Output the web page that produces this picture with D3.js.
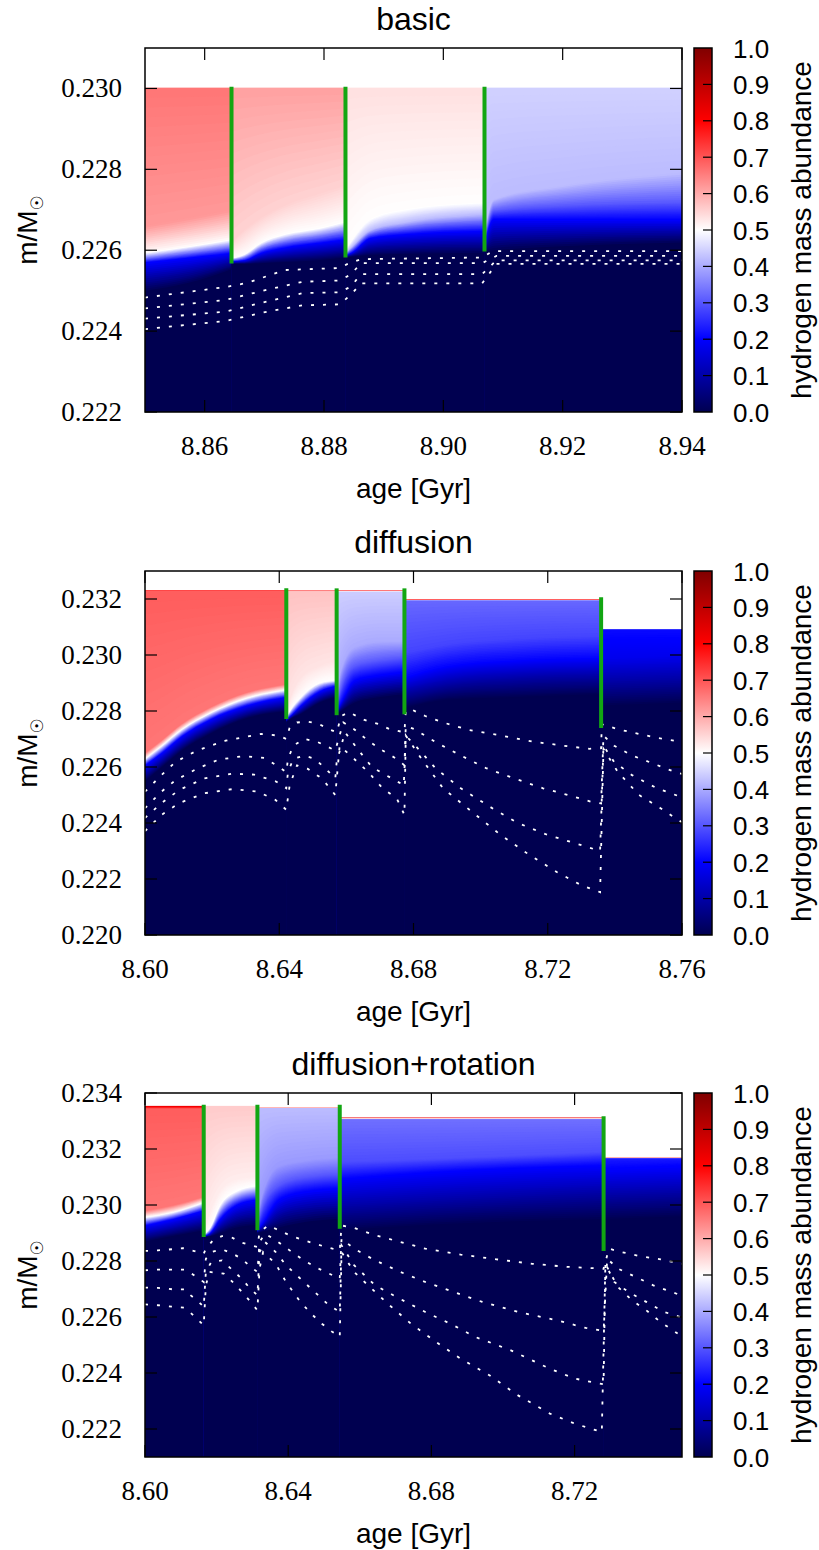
<!DOCTYPE html>
<html>
<head>
<meta charset="utf-8">
<script src="https://cdn.jsdelivr.net/npm/d3@7/dist/d3.min.js"></script>
<style>
  body { margin: 0; background: #fff; }
  svg { display: block; }
</style>
</head>
<body>
<svg id="chart" width="819" height="1550"></svg>
<script>
// colour palette of the hydrogen abundance
const paletteStops  = [0, 0.2, 0.5, 0.8, 1.0];
const paletteColors = ["#000050", "#0000ff", "#ffffff", "#ff0000", "#800000"];
const cbTicks = [0, 0.1, 0.2, 0.3, 0.4, 0.5, 0.6, 0.7, 0.8, 0.9, 1.0];

// ---------- basic ----------
const basicAgeTicks  = [8.86, 8.88, 8.90, 8.92, 8.94];
const basicMassTicks = [0.222, 0.224, 0.226, 0.228, 0.230];
const basicBreaks  = [8.85, 8.8645, 8.8836, 8.9069, 8.94];
const basicSurface = [0.23002, 0.23002, 0.23002, 0.23002];
const basicGreenTop    = [0.23004, 0.23004, 0.23004];
const basicGreenBottom = [0.22567, 0.22582, 0.22597];
// X levels per segment, top to bottom
const basicLevels = [
  [0.66, 0.62, 0.50, 0.20, 0.0],
  [0.61, 0.55, 0.50, 0.20, 0.0],
  [0.535, 0.50, 0.42, 0.20, 0.0],
  [0.445, 0.42, 0.30, 0.20, 0.0]
];
// [age, mass where X = level1, level2, ...]
const basicProfiles = [
  [[8.85, 0.2266, 0.22594, 0.2257, 0.2250],
   [8.8575, 0.2268, 0.2261, 0.22582, 0.2252],
   [8.8645, 0.2270, 0.22627, 0.22594, 0.22553]],
  [[8.8645, 0.2262, 0.22580, 0.22572, 0.22566],
   [8.8667, 0.2265, 0.2259, 0.22575, 0.22566],
   [8.8695, 0.2268, 0.22619, 0.22594, 0.22568],
   [8.8734, 0.2271, 0.2264, 0.22607, 0.22571],
   [8.8794, 0.2274, 0.22656, 0.22619, 0.22576],
   [8.8836, 0.2276, 0.22672, 0.22627, 0.22582]],
  [[8.8836, 0.2260, 0.22592, 0.22586, 0.22582],
   [8.8848, 0.22627, 0.2261, 0.22595, 0.22584],
   [8.8878, 0.22677, 0.2265, 0.2263, 0.22588],
   [8.8938, 0.22701, 0.2267, 0.2264, 0.22591],
   [8.9069, 0.22718, 0.2269, 0.22648, 0.22594]],
  [[8.9069, 0.2264, 0.2262, 0.2261, 0.22598],
   [8.9085, 0.22726, 0.22697, 0.22677, 0.2260],
   [8.920, 0.2276, 0.2271, 0.22677, 0.2261],
   [8.94, 0.22792, 0.22718, 0.22677, 0.22619]]
];
const basicDotted = [
  [[8.85,0.22483],[8.8635,0.22509],[8.8671,0.22519],[8.8734,0.22551],[8.8826,0.22556],[8.8838,0.22565],[8.8862,0.22578],[8.9065,0.22582],[8.9083,0.22598],[8.94,0.22598]],
  [[8.85,0.22456],[8.8635,0.22477],[8.8698,0.22500],[8.8764,0.22522],[8.8826,0.22525],[8.8845,0.2254],[8.8862,0.22568],[8.9065,0.22568],[8.9089,0.22586],[8.94,0.22586]],
  [[8.85,0.22431],[8.8635,0.22448],[8.8698,0.22471],[8.8764,0.22494],[8.8826,0.22496],[8.8845,0.2251],[8.8862,0.22541],[8.9065,0.22541],[8.9089,0.22575],[8.94,0.22575]],
  [[8.85,0.22405],[8.8635,0.22425],[8.8698,0.22446],[8.8764,0.22464],[8.8826,0.22466],[8.8845,0.2249],[8.8862,0.22518],[8.9065,0.22518],[8.9089,0.22566],[8.94,0.22566]]
];

// ---------- diffusion ----------
const diffAgeTicks  = [8.60, 8.64, 8.68, 8.72, 8.76];
const diffMassTicks = [0.220, 0.222, 0.224, 0.226, 0.228, 0.230, 0.232];
const diffBreaks  = [8.60, 8.6421, 8.6571, 8.6773, 8.7359, 8.76];
const diffSurface = [0.23232, 0.23232, 0.2323, 0.23198, 0.23092];
const diffGreenTop    = [0.23238, 0.23238, 0.23238, 0.23206];
const diffGreenBottom = [0.22771, 0.22785, 0.22788, 0.22739];
const diffLevels = [
  [0.80, 0.69, 0.66, 0.50, 0.20, 0.0],
  [0.75, 0.57, 0.53, 0.50, 0.20, 0.0],
  [0.75, 0.44, 0.40, 0.30, 0.20, 0.0],
  [0.80, 0.32, 0.28, 0.20, 0.10, 0.0],
  [0.50, 0.21, 0.18, 0.10, 0.0]
];
const diffProfiles = [
  [[8.600, 0.23229, 0.2265, 0.22629, 0.22606, 0.2255],
   [8.605, 0.23229, 0.22696, 0.22676, 0.2265, 0.2260],
   [8.611, 0.23229, 0.22755, 0.22735, 0.2271, 0.2266],
   [8.6195, 0.23229, 0.22814, 0.22794, 0.2277, 0.2272],
   [8.6304, 0.23229, 0.22867, 0.22847, 0.2282, 0.22775],
   [8.6421, 0.23229, 0.22896, 0.22876, 0.2285, 0.2280]],
  [[8.6421, 0.23228, 0.2279, 0.22775, 0.2277, 0.2276],
   [8.6432, 0.23228, 0.2284, 0.2280, 0.2278, 0.2277],
   [8.6465, 0.23228, 0.2292, 0.2285, 0.2282, 0.2279],
   [8.652, 0.23228, 0.2296, 0.2290, 0.2287, 0.2283],
   [8.6571, 0.23228, 0.2298, 0.2291, 0.2289, 0.2285]],
  [[8.6571, 0.23226, 0.2283, 0.2281, 0.22795, 0.22788],
   [8.6585, 0.23226, 0.2295, 0.2288, 0.2283, 0.2280],
   [8.6625, 0.23226, 0.2303, 0.2296, 0.2291, 0.2283],
   [8.670, 0.23226, 0.2305, 0.2298, 0.2293, 0.2285],
   [8.6773, 0.23226, 0.2305, 0.2299, 0.2294, 0.2286]],
  [[8.6773, 0.23194, 0.2301, 0.2292, 0.2287, 0.2281],
   [8.69, 0.23194, 0.2304, 0.2296, 0.2290, 0.2284],
   [8.71, 0.23194, 0.2306, 0.2298, 0.2292, 0.2285],
   [8.7359, 0.23194, 0.2307, 0.2299, 0.2293, 0.2286]],
  [[8.7359, 0.2309, 0.2299, 0.2291, 0.2282],
   [8.76, 0.2309, 0.2300, 0.2292, 0.2283]]
];
const diffDotted = [
  [[8.600,0.22512],[8.6049,0.22571],[8.6091,0.22618],[8.6155,0.22659],[8.6240,0.22694],[8.6346,0.22718],[8.6399,0.22712],[8.6421,0.22700],
   [8.6431,0.22741],[8.6453,0.22759],[8.6484,0.22762],[8.6516,0.22755],[8.6548,0.22735],[8.6571,0.22724],
   [8.6585,0.22782],[8.6607,0.22796],[8.6654,0.22768],[8.6697,0.22753],[8.6729,0.22735],[8.6773,0.22724],
   [8.6777,0.22800],[8.6793,0.22806],[8.6835,0.22782],[8.6888,0.22759],[8.6963,0.22733],[8.7048,0.22715],[8.7154,0.22691],[8.7260,0.22674],[8.7324,0.22665],[8.7359,0.22667],
   [8.7361,0.22753],[8.7409,0.22735],[8.7472,0.22718],[8.7536,0.22702],[8.76,0.2269]],
  [[8.600,0.22453],[8.6049,0.22512],[8.6091,0.22553],[8.6155,0.22594],[8.6219,0.22626],[8.6293,0.22639],[8.6357,0.22632],[8.6389,0.22608],[8.6421,0.22582],
   [8.6426,0.22629],[8.6442,0.22676],[8.6474,0.22700],[8.6511,0.22691],[8.6538,0.22676],[8.6567,0.22659],
   [8.6571,0.22676],[8.6591,0.22759],[8.6623,0.22735],[8.6665,0.22694],[8.6708,0.22659],[8.6750,0.22629],[8.6773,0.22606],
   [8.6777,0.22747],[8.6803,0.22735],[8.6867,0.22688],[8.6941,0.22641],[8.7016,0.22596],[8.7101,0.22559],[8.7186,0.22524],[8.7260,0.22500],[8.7329,0.22476],[8.7359,0.22470],
   [8.7366,0.22712],[8.7398,0.22676],[8.7451,0.22641],[8.7515,0.22612],[8.7579,0.22582],[8.76,0.22575]],
  [[8.600,0.22418],[8.6049,0.22471],[8.6102,0.22518],[8.6176,0.22559],[8.6261,0.22576],[8.6325,0.22573],[8.6389,0.22549],[8.6421,0.22524],
   [8.6426,0.22582],[8.6442,0.22629],[8.6474,0.22641],[8.6506,0.22629],[8.6538,0.22594],[8.6567,0.22559],
   [8.6571,0.22618],[8.6596,0.22724],[8.6633,0.22665],[8.6676,0.22600],[8.6718,0.22571],[8.6771,0.22535],
   [8.6777,0.22712],[8.6814,0.22665],[8.6867,0.22594],[8.6941,0.22524],[8.7026,0.22459],[8.7111,0.22400],[8.7196,0.22359],[8.7292,0.22324],[8.7356,0.22300],
   [8.7366,0.22676],[8.7398,0.22618],[8.7451,0.22571],[8.7525,0.22524],[8.7595,0.22494],[8.76,0.2249]],
  [[8.600,0.22371],[8.6049,0.22429],[8.6102,0.22471],[8.6176,0.22506],[8.6261,0.22521],[8.6336,0.22512],[8.6389,0.22482],[8.6421,0.22447],
   [8.6431,0.22535],[8.6453,0.22606],[8.6484,0.22594],[8.6527,0.22559],[8.6567,0.22500],
   [8.6580,0.22676],[8.6623,0.22629],[8.6665,0.22582],[8.6708,0.22524],[8.6750,0.22488],[8.6773,0.22429],
   [8.6777,0.22712],[8.6824,0.22629],[8.6888,0.22524],[8.6973,0.22441],[8.7058,0.22359],[8.7143,0.22288],[8.7228,0.22224],[8.7303,0.22176],[8.7356,0.22153],
   [8.7366,0.22665],[8.7409,0.22582],[8.7472,0.22500],[8.7536,0.22453],[8.7595,0.22406],[8.76,0.2240]]
];

// ---------- diffusion+rotation ----------
const rotAgeTicks  = [8.60, 8.64, 8.68, 8.72];
const rotMassTicks = [0.222, 0.224, 0.226, 0.228, 0.230, 0.232, 0.234];
const rotBreaks  = [8.60, 8.6164, 8.6314, 8.6544, 8.7281, 8.75];
const rotSurface = [0.23354, 0.23354, 0.2335, 0.23312, 0.23171];
const rotGreenTop    = [0.23358, 0.23358, 0.23358, 0.23317];
const rotGreenBottom = [0.22886, 0.2291, 0.22915, 0.22836];
const rotLevels = [
  [0.85, 0.69, 0.66, 0.50, 0.20, 0.0],
  [0.56, 0.52, 0.50, 0.20, 0.0],
  [0.80, 0.42, 0.38, 0.30, 0.20, 0.0],
  [0.85, 0.33, 0.29, 0.20, 0.10, 0.0],
  [0.80, 0.23, 0.20, 0.10, 0.0]
];
const rotProfiles = [
  [[8.600, 0.23344, 0.2298, 0.22957, 0.22927, 0.2287],
   [8.608, 0.23344, 0.2300, 0.22975, 0.2295, 0.2289],
   [8.6164, 0.23344, 0.2303, 0.2301, 0.2298, 0.2291]],
  [[8.6164, 0.2290, 0.22892, 0.22888, 0.22885],
   [8.6183, 0.2298, 0.2292, 0.2290, 0.22888],
   [8.621, 0.2305, 0.2300, 0.2295, 0.2290],
   [8.6255, 0.2309, 0.2305, 0.2300, 0.2292],
   [8.6314, 0.2310, 0.2307, 0.2302, 0.2293]],
  [[8.6314, 0.23346, 0.2295, 0.2292, 0.2291, 0.2290],
   [8.6325, 0.23346, 0.2302, 0.22975, 0.22927, 0.22904],
   [8.6374, 0.23346, 0.2314, 0.2307, 0.2302, 0.2292],
   [8.645, 0.23346, 0.2316, 0.2310, 0.2305, 0.2294],
   [8.6544, 0.23346, 0.2317, 0.2311, 0.2306, 0.22951]],
  [[8.6544, 0.23306, 0.23154, 0.23094, 0.2300, 0.2291],
   [8.68, 0.23306, 0.23165, 0.23118, 0.2302, 0.2293],
   [8.7281, 0.23306, 0.2319, 0.23142, 0.2305, 0.2295]],
  [[8.7281, 0.23166, 0.2313, 0.2304, 0.2295],
   [8.75, 0.23166, 0.2314, 0.2305, 0.2296]]
];
const rotDotted = [
  [[8.6000,0.22836],[8.6036,0.22838],[8.6076,0.22842],[8.6106,0.22846],[8.6135,0.22836],[8.6164,0.22826],
   [8.6170,0.22844],[8.6190,0.22874],[8.6215,0.22889],[8.6240,0.22886],[8.6265,0.22868],[8.6295,0.22856],[8.6314,0.22850],
   [8.6320,0.22904],[8.6345,0.22927],[8.6365,0.22915],[8.6404,0.22892],[8.6444,0.22874],[8.6484,0.22858],[8.6524,0.22844],[8.6544,0.22838],
   [8.6549,0.22927],[8.6584,0.22918],[8.6643,0.22892],[8.6713,0.22868],[8.6783,0.22844],[8.6882,0.22823],[8.6982,0.22806],[8.7082,0.22790],[8.7181,0.22779],[8.7271,0.22773],[8.7281,0.22772],
   [8.7296,0.22844],[8.7331,0.22832],[8.7380,0.22818],[8.7440,0.22806],[8.75,0.22790]],
  [[8.6000,0.22767],[8.6036,0.22769],[8.6076,0.22769],[8.6111,0.22769],[8.6135,0.22751],[8.6164,0.22725],
   [8.6170,0.22808],[8.6185,0.22832],[8.6215,0.22842],[8.6245,0.22826],[8.6270,0.22808],[8.6295,0.22779],[8.6314,0.22761],
   [8.6320,0.22868],[8.6335,0.22898],[8.6365,0.22874],[8.6404,0.22838],[8.6444,0.22802],[8.6484,0.22773],[8.6524,0.22749],[8.6544,0.22737],
   [8.6549,0.22880],[8.6584,0.22844],[8.6643,0.22802],[8.6713,0.22761],[8.6783,0.22725],[8.6863,0.22689],[8.6942,0.22654],[8.7042,0.22618],[8.7151,0.22588],[8.7231,0.22561],[8.7281,0.2255],
   [8.7291,0.22808],[8.7321,0.22773],[8.7371,0.22743],[8.7420,0.22713],[8.7485,0.22683],[8.75,0.22677]],
  [[8.6000,0.22705],[8.6036,0.22704],[8.6076,0.22699],[8.6111,0.22699],[8.6125,0.22680],[8.6150,0.22654],[8.6164,0.22636],
   [8.6170,0.22761],[8.6185,0.22796],[8.6215,0.22802],[8.6245,0.22767],[8.6270,0.22737],[8.6290,0.22707],[8.6314,0.22677],
   [8.6320,0.22832],[8.6335,0.22868],[8.6365,0.22832],[8.6394,0.22785],[8.6434,0.22737],[8.6474,0.22689],[8.6514,0.22642],[8.6544,0.22618],
   [8.6549,0.22856],[8.6584,0.22785],[8.6643,0.22713],[8.6703,0.22671],[8.6783,0.22618],[8.6853,0.22576],[8.6922,0.22529],[8.7022,0.22481],[8.7131,0.22415],[8.7201,0.22380],[8.7246,0.22368],[8.7281,0.2236],
   [8.7286,0.22790],[8.7311,0.22725],[8.7351,0.22689],[8.7400,0.22654],[8.7450,0.22618],[8.7495,0.22600],[8.75,0.22598]],
  [[8.6000,0.22645],[8.6036,0.22642],[8.6076,0.22637],[8.6111,0.22633],[8.6125,0.22618],[8.6145,0.22594],[8.6164,0.22570],
   [8.6170,0.22713],[8.6180,0.22761],[8.6220,0.22755],[8.6250,0.22719],[8.6275,0.22683],[8.6295,0.22654],[8.6314,0.22624],
   [8.6320,0.22773],[8.6330,0.22832],[8.6365,0.22790],[8.6394,0.22725],[8.6434,0.22654],[8.6464,0.22612],[8.6494,0.22576],[8.6524,0.22546],[8.6544,0.22529],
   [8.6549,0.22832],[8.6584,0.22761],[8.6623,0.22713],[8.6683,0.22642],[8.6743,0.22576],[8.6813,0.22511],[8.6882,0.22451],[8.6962,0.22392],[8.7042,0.22320],[8.7131,0.22255],[8.7201,0.22219],[8.7246,0.22201],[8.7276,0.22189],
   [8.7286,0.22790],[8.7321,0.22707],[8.7361,0.22659],[8.7400,0.22624],[8.7440,0.22582],[8.7475,0.22552],[8.75,0.2253]]
];

const panels = [
  {id: "basic", title: "basic", top: 48, ageDomain: [8.85, 8.94], massDomain: [0.222, 0.231],
   ageTicks: basicAgeTicks, massTicks: basicMassTicks, breaks: basicBreaks, surface: basicSurface,
   levels: basicLevels, profiles: basicProfiles, greenTop: basicGreenTop, greenBottom: basicGreenBottom, dotted: basicDotted},
  {id: "diff", title: "diffusion", top: 571, ageDomain: [8.60, 8.76], massDomain: [0.220, 0.233],
   ageTicks: diffAgeTicks, massTicks: diffMassTicks, breaks: diffBreaks, surface: diffSurface,
   levels: diffLevels, profiles: diffProfiles, greenTop: diffGreenTop, greenBottom: diffGreenBottom, dotted: diffDotted},
  {id: "rot", title: "diffusion+rotation", top: 1093, ageDomain: [8.60, 8.75], massDomain: [0.221, 0.234],
   ageTicks: rotAgeTicks, massTicks: rotMassTicks, breaks: rotBreaks, surface: rotSurface,
   levels: rotLevels, profiles: rotProfiles, greenTop: rotGreenTop, greenBottom: rotGreenBottom, dotted: rotDotted}
];

const left = 145, right = 682, plotH = 364;
const cbX = 694, cbW = 18;
const STEPS = 14;
const serif = "'Liberation Serif', 'Times New Roman', serif";
const sans = "'Liberation Sans', Arial, Helvetica, sans-serif";

const color = d3.scaleLinear().domain(paletteStops).range(paletteColors).clamp(true);
const svg = d3.select("#chart");
const defs = svg.append("defs");

const grad = defs.append("linearGradient").attr("id", "cbgrad")
  .attr("x1", 0).attr("y1", 1).attr("x2", 0).attr("y2", 0);
grad.selectAll("stop").data(paletteStops).join("stop")
  .attr("offset", d => d)
  .attr("stop-color", (d, i) => paletteColors[i]);

panels.forEach(p => drawPanel(p));

function drawPanel(p) {
  const x = d3.scaleLinear().domain(p.ageDomain).range([left, right]);
  const y = d3.scaleLinear().domain(p.massDomain).range([p.top + plotH, p.top]);
  const yBottom = y(p.massDomain[0]);
  const g = svg.append("g").attr("class", "panel-" + p.id);

  defs.append("clipPath").attr("id", "clip-" + p.id)
    .append("rect").attr("x", left).attr("y", p.top).attr("width", right - left).attr("height", plotH);

  const heat = g.append("g").attr("clip-path", `url(#clip-${p.id})`);

  p.breaks.slice(0, -1).forEach((a0, s) => {
    const a1 = p.breaks[s + 1];
    const levels = p.levels[s];
    const knots = p.profiles[s];
    const top = p.surface[s];

    heat.append("rect")
      .attr("x", x(a0)).attr("y", y(top))
      .attr("width", x(a1) - x(a0)).attr("height", yBottom - y(top))
      .attr("fill", color(levels[0]));

    for (let i = 1; i < levels.length; i++) {
      for (let k = 1; k <= STEPS; k++) {
        const f = k / STEPS;
        const X = levels[i - 1] + (levels[i] - levels[i - 1]) * f;
        const area = d3.area().curve(d3.curveMonotoneX)
          .x(d => x(d[0]))
          .y0(yBottom)
          .y1(d => {
            const m0 = i === 1 ? top : d[i - 1];
            return y(m0 + (d[i] - m0) * f);
          });
        heat.append("path").attr("d", area(knots)).attr("fill", color(X));
      }
    }
  });

  // dotted white lines
  const line = d3.line().x(d => x(d[0])).y(d => y(d[1]));
  heat.selectAll("path.dot").data(p.dotted).join("path")
    .attr("class", "dot")
    .attr("d", line)
    .attr("fill", "none")
    .attr("stroke", "#fff")
    .attr("stroke-width", 1.8)
    .attr("stroke-dasharray", "3,9");

  // green lines at the breaks
  g.selectAll("line.green").data(p.greenTop).join("line")
    .attr("class", "green")
    .attr("x1", (d, i) => x(p.breaks[i + 1])).attr("x2", (d, i) => x(p.breaks[i + 1]))
    .attr("y1", d => y(d)).attr("y2", (d, i) => y(p.greenBottom[i]))
    .attr("stroke", "#12a612").attr("stroke-width", 4);

  // frame
  g.append("rect").attr("x", left).attr("y", p.top).attr("width", right - left).attr("height", plotH)
    .attr("fill", "none").attr("stroke", "#000").attr("stroke-width", 1.5);

  const tl = 12;
  g.selectAll("line.xt").data(p.ageTicks).join("line").attr("class", "xt")
    .attr("x1", d => x(d)).attr("x2", d => x(d)).attr("y1", yBottom).attr("y2", yBottom - tl)
    .attr("stroke", "#000").attr("stroke-width", 1.2);
  g.selectAll("line.xt2").data(p.ageTicks).join("line").attr("class", "xt2")
    .attr("x1", d => x(d)).attr("x2", d => x(d)).attr("y1", p.top).attr("y2", p.top + tl)
    .attr("stroke", "#000").attr("stroke-width", 1.2);
  g.selectAll("line.yt").data(p.massTicks).join("line").attr("class", "yt")
    .attr("x1", left).attr("x2", left + tl).attr("y1", d => y(d)).attr("y2", d => y(d))
    .attr("stroke", "#000").attr("stroke-width", 1.2);
  g.selectAll("line.yt2").data(p.massTicks).join("line").attr("class", "yt2")
    .attr("x1", right).attr("x2", right - tl).attr("y1", d => y(d)).attr("y2", d => y(d))
    .attr("stroke", "#000").attr("stroke-width", 1.2);

  g.selectAll("text.xl").data(p.ageTicks).join("text").attr("class", "xl")
    .attr("x", d => x(d)).attr("y", yBottom + 43)
    .attr("text-anchor", "middle").attr("font-family", serif).attr("font-size", 27)
    .text(d => d3.format(".2f")(d));
  g.selectAll("text.yl").data(p.massTicks).join("text").attr("class", "yl")
    .attr("x", 122).attr("y", d => y(d) + 9)
    .attr("text-anchor", "end").attr("font-family", serif).attr("font-size", 27)
    .text(d => d3.format(".3f")(d));

  // titles and axis labels
  g.append("text").attr("x", (left + right) / 2).attr("y", p.top - 18)
    .attr("text-anchor", "middle").attr("font-family", sans).attr("font-size", 32)
    .text(p.title);
  g.append("text").attr("x", (left + right) / 2).attr("y", yBottom + 86)
    .attr("text-anchor", "middle").attr("font-family", sans).attr("font-size", 28)
    .text("age [Gyr]");
  const yl = g.append("text")
    .attr("transform", `translate(37,${p.top + plotH / 2}) rotate(-90)`)
    .attr("text-anchor", "middle").attr("font-family", sans).attr("font-size", 28);
  yl.append("tspan").text("m/M");
  yl.append("tspan").attr("font-family", "'DejaVu Sans', sans-serif").attr("font-size", 17)
    .attr("dy", 6).text("\u2609");

  // colour bar
  const cy = d3.scaleLinear().domain([0, 1]).range([p.top + plotH, p.top]);
  g.append("rect").attr("x", cbX).attr("y", p.top).attr("width", cbW).attr("height", plotH)
    .attr("fill", "url(#cbgrad)").attr("stroke", "#000").attr("stroke-width", 1.5);
  g.selectAll("line.ct").data(cbTicks.slice(1, -1)).join("line").attr("class", "ct")
    .attr("x1", cbX + cbW - 9).attr("x2", cbX + cbW).attr("y1", d => cy(d)).attr("y2", d => cy(d))
    .attr("stroke", "#000").attr("stroke-width", 1.2);
  g.selectAll("text.cl").data(cbTicks).join("text").attr("class", "cl")
    .attr("x", 733).attr("y", d => cy(d) + 9.5)
    .attr("font-family", sans).attr("font-size", 26)
    .text(d => d3.format(".1f")(d));
  g.append("text")
    .attr("transform", `translate(811,${p.top + plotH / 2}) rotate(-90)`)
    .attr("text-anchor", "middle").attr("font-family", sans).attr("font-size", 28)
    .text("hydrogen mass abundance");
}
</script>
</body>
</html>
